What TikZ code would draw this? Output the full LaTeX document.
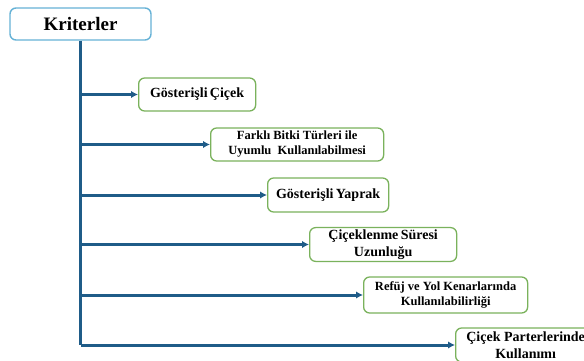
\documentclass[tikz,border=0pt]{standalone}
\usepackage{fontspec}
\setmainfont{Liberation Serif}
\usepackage{tikz}
\usetikzlibrary{positioning, arrows.meta}
\definecolor{trunkC}{RGB}{31, 92, 136}
\definecolor{leafC}{RGB}{122, 178, 92}
\definecolor{rootC}{RGB}{102, 178, 214}

\begin{document}
\begin{tikzpicture}[
  x=1pt, y=-1pt,
  root/.style={draw=rootC, line width=1.4pt, rounded corners=6pt, fill=white,
               minimum width=141pt, minimum height=32pt, inner sep=2pt,
               font=\fontsize{19}{22}\selectfont\bfseries},
  leaf/.style={draw=leafC, line width=1.3pt, rounded corners=6pt, fill=white,
               anchor=west, inner sep=2pt, align=center,
               font=\fontsize{14}{17}\selectfont\bfseries},
  small/.style={font=\fontsize{12.5}{15}\selectfont\bfseries},
  trunk/.style={draw=trunkC, line width=3pt},
  branch/.style={trunk, -{Latex[length=7pt, width=7.5pt]}}
]
  \useasboundingbox (0,0) rectangle (584,361);

  % ── root ──
  \node[root] (k) at (80.5, 24) {Kriterler};

  % ── criteria ──
  \node[leaf, minimum width=117pt, minimum height=33pt] (c1) at (138, 94.5)
    {Gösterişli\,Çiçek};
  \node[leaf, small, minimum width=173pt, minimum height=33pt] (c2) at (210, 144.5)
    {Farklı Bitki Türleri ile\\Uyumlu~ Kullanılabilmesi};
  \node[leaf, minimum width=121pt, minimum height=34pt] (c3) at (267, 195)
    {Gösterişli\,Yaprak};
  \node[leaf, minimum width=147pt, minimum height=33pt] (c4) at (309, 244.5)
    {Çiçeklenme\,Süresi\\Uzunluğu};
  \node[leaf, small, minimum width=164pt, minimum height=36pt] (c5) at (363, 295)
    {Refüj ve Yol Kenarlarında\\Kullanılabilirliği};
  \node[leaf, minimum width=140pt, minimum height=34pt] (c6) at (455, 345)
    {Çiçek Parterlerinde\\Kullanımı};

  % ── connectors ──
  \draw[trunk] (k.south) -- (k.south |- c6.west);
  \draw[branch] (k.south |- c1.west) -- (c1.west);
  \draw[branch] (k.south |- c2.west) -- (c2.west);
  \draw[branch] (k.south |- c3.west) -- (c3.west);
  \draw[branch] (k.south |- c4.west) -- (c4.west);
  \draw[branch] (k.south |- c5.west) -- (c5.west);
  \draw[branch] (k.south |- c6.west) -- (c6.west);
\end{tikzpicture}
\end{document}
